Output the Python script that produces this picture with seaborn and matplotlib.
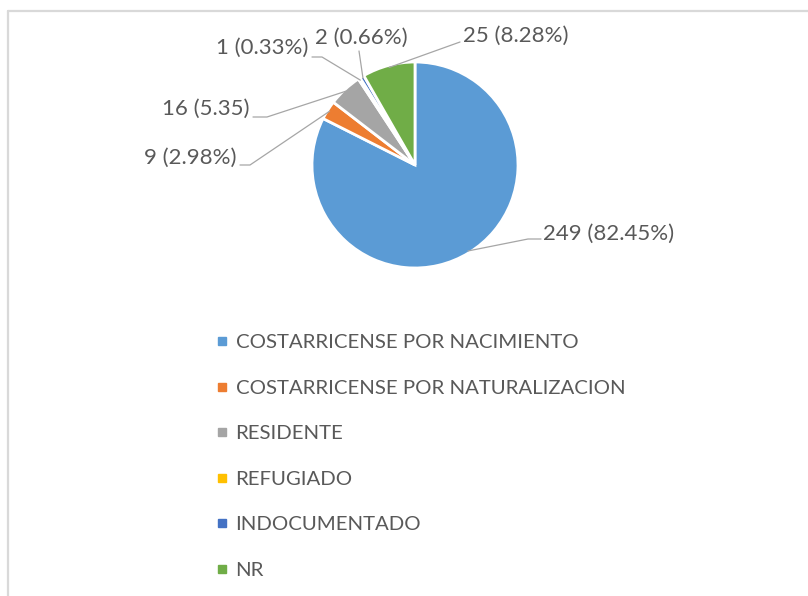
import numpy as np
import seaborn as sns
import matplotlib.pyplot as plt
from matplotlib.lines import Line2D

categories = ["COSTARRICENSE POR NACIMIENTO", "COSTARRICENSE POR NATURALIZACION",
              "RESIDENTE", "REFUGIADO", "INDOCUMENTADO", "NR"]
counts = [249, 9, 16, 1, 2, 25]
point_labels = ["249 (82.45%)", "9 (2.98%)", "16 (5.35)", "1 (0.33%)", "2 (0.66%)", "25 (8.28%)"]
colors = ["#5B9BD5", "#ED7D31", "#A5A5A5", "#FFC000", "#4472C4", "#70AD47"]

sns.set_theme(style="white")
plt.rcParams['font.family'] = ['Lato', 'DejaVu Sans']
txt = '#595959'

W, H = 808, 596
fig = plt.figure(figsize=(W / 100, H / 100), dpi=100)

# pie centre / radius in pixels
cx, cy, R = 415, 165, 103
ax = fig.add_axes([(cx - R) / W, 1 - (cy + R) / H, 2 * R / W, 2 * R / H])
wedges, _ = ax.pie(counts, colors=colors, startangle=90, counterclock=False,
                   wedgeprops=dict(edgecolor='white', linewidth=2))
ax.set_xlim(-1, 1)
ax.set_ylim(-1, 1)
ax.set_aspect('equal')
ax.axis('off')


def px(x, y):
    return (x - cx) / R, (cy - y) / R


# text anchor (px), alignment, elbow points (px)
label_layout = [
    ((543, 234), 'left', [(528, 239), (541, 239)]),
    ((236, 158), 'right', [(250, 165), (240, 165)]),
    ((249, 109), 'right', [(267, 117), (253, 117)]),
    ((308, 48), 'right', [(322, 57), (312, 57)]),
    ((361, 38), 'center', [(359, 51)]),
    ((463, 36), 'left', [(460, 42)]),
]

for w, lab, (tpos, ha, elbows) in zip(wedges, point_labels, label_layout):
    mid = np.deg2rad((w.theta1 + w.theta2) / 2)
    start = (0.98 * np.cos(mid), 0.98 * np.sin(mid))
    pts = [start] + [px(*e) for e in elbows]
    xs, ys = zip(*pts)
    ax.plot(xs, ys, color='#a6a6a6', lw=0.9, clip_on=False)
    tx, ty = px(*tpos)
    ax.text(tx, ty, lab, ha=ha, va='center', fontsize=16, color=txt, clip_on=False)

handles = [Line2D([], [], marker='s', ls='', color=c, markersize=6) for c in colors]
fig.legend(handles, categories, loc='upper left', bbox_to_anchor=(206 / W, 1 - 324 / H),
           frameon=False, fontsize=14.7, labelcolor=txt, labelspacing=1.38,
           handlelength=0.6, handletextpad=0.35, borderpad=0)

# outer chart border (top and left visible)
fig.add_artist(Line2D([8 / W, 1], [1 - 11 / H, 1 - 11 / H], color='#d9d9d9', lw=1.6))
fig.add_artist(Line2D([8 / W, 8 / W], [0, 1 - 11 / H], color='#d9d9d9', lw=1.6))

fig.savefig('out.png', dpi=100, facecolor='white')
